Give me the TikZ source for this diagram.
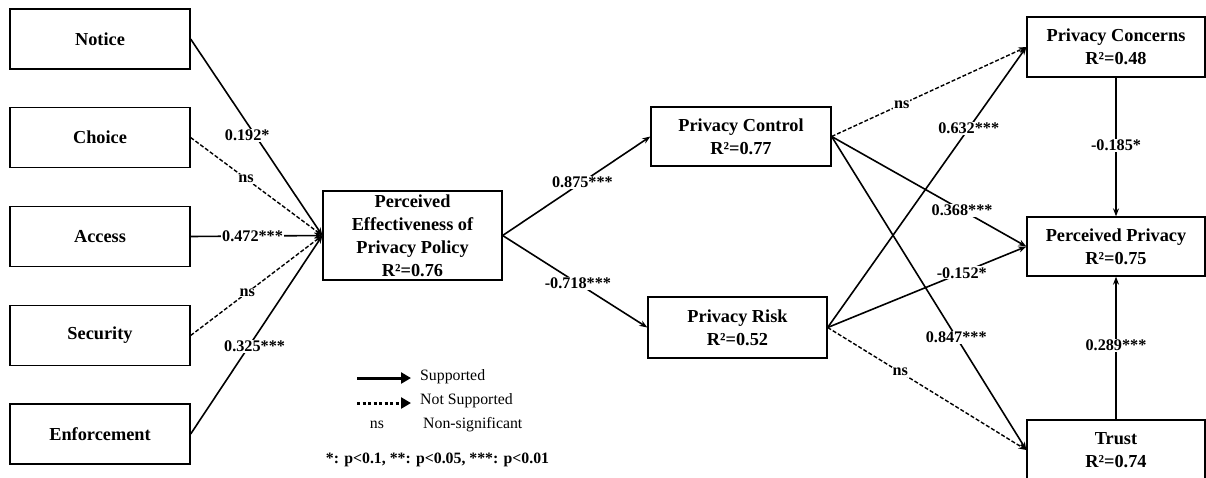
\documentclass[tikz,border=0pt]{standalone}
\usepackage{fontspec}
\setmainfont{Liberation Serif}
\usetikzlibrary{arrows.meta}
\begin{document}
\begin{tikzpicture}[x=1pt,y=-1pt,
  box/.style={draw, line width=1.3pt, minimum width=180pt, minimum height=60pt, align=center,
    font=\fontsize{18.3}{23}\selectfont\bfseries, inner sep=0pt},
  lab/.style={fill=white, inner sep=1pt, font=\fontsize{16.2}{18}\selectfont\bfseries},
  sup/.style={draw, line width=1.6pt, -{Stealth[length=8pt,width=6pt]}},
  nsup/.style={sup, dash pattern=on 4pt off 2pt, line width=1.4pt},
  legtext/.style={anchor=west, inner sep=0pt, font=\fontsize{15.8}{18}\selectfont}]
\useasboundingbox (0,0) rectangle (1206,477);

% left column
\node[box] (notice) at (100,39) {Notice};
\node[box] (choice) at (100,137.5) {Choice};
\node[box] (access) at (100,236.5) {Access};
\node[box] (security) at (100,335.5) {Security};
\node[box] (enforcement) at (100,434) {Enforcement};

% middle
\node[box, minimum width=179pt, minimum height=89pt] (pepp) at (412.5,235.5)
  {Perceived\\Effectiveness of\\Privacy Policy\\R²=0.76};
\node[box, minimum height=59pt] (pcontrol) at (741,136.5) {Privacy Control\\R²=0.77};
\node[box, minimum width=179pt, minimum height=61pt] (prisk) at (737.5,327.5) {Privacy Risk\\R²=0.52};

% right column
\node[box, minimum width=178pt] (pconcerns) at (1116,47) {Privacy Concerns\\R²=0.48};
\node[box, minimum width=178pt, minimum height=59pt] (pprivacy) at (1116,246.5) {Perceived Privacy\\R²=0.75};
\node[box, minimum width=178pt] (trust) at (1116,450) {Trust\\R²=0.74};

% left arrows
\draw[sup] (notice.east) -- node[lab, pos=0.49, xshift=-8pt] (l1) {0.192*} (pepp.west);
\draw[nsup] (choice.east) -- node[lab, pos=0.42] (l2) {ns} (pepp.west);
\draw[sup] (access.east) -- node[lab, pos=0.47] (l3) {0.472***} (pepp.west);
\draw[nsup] (security.east) -- node[lab, pos=0.43] (l4) {ns} (pepp.west);
\draw[sup] (enforcement.east) -- node[lab, pos=0.44, xshift=6pt] (l5) {0.325***} (pepp.west);

% middle arrows
\draw[sup] (pepp.east) -- node[lab, pos=0.54] (l6) {0.875***} (pcontrol.west);
\draw[sup] (pepp.east) -- node[lab, pos=0.52] (l7) {-0.718***} (prisk.west);

% right arrows
\draw[nsup] (pcontrol.east) -- node[lab, pos=0.36] (l8) {ns} (pconcerns.west);
\draw[sup] (pcontrol.east) -- node[lab, pos=0.67] (l9) {0.368***} (pprivacy.west);
\draw[sup] (pcontrol.east) -- node[lab, pos=0.64] (l10) {0.847***} (trust.west);
\draw[sup] (prisk.east) -- node[lab, pos=0.71] (l11) {0.632***} (pconcerns.west);
\draw[sup] (prisk.east) -- node[lab, pos=0.675] (l12) {-0.152*} (pprivacy.west);
\draw[nsup] (prisk.east) -- node[lab, pos=0.365] (l13) {ns} (trust.west);
\draw[sup] (pconcerns.south) -- node[lab, pos=0.49] (l14) {-0.185*} (pprivacy.north);
\draw[sup] (trust.north) -- node[lab, pos=0.52] (l15) {0.289***} (pprivacy.south);

% legend
\coordinate (la1) at (357,378); \coordinate (lb1) at (411,378);
\coordinate (la2) at (357,403); \coordinate (lb2) at (411,403);
\draw[line width=3pt, -{Triangle[length=10pt,width=11pt]}] (la1) -- (lb1);
\draw[line width=3pt, dash pattern=on 3pt off 2.5pt, -{Triangle[length=10pt,width=11pt]}] (la2) -- (lb2);
\node[legtext] (leg1) at (420,377) {Supported};
\node[legtext] (leg2) at (420,401) {Not Supported};
\node[font=\fontsize{15.8}{18}\selectfont, inner sep=0pt] (legns) at (377,425) {ns};
\node[legtext] (leg3) at (423,425) {Non-significant};
\node[inner sep=0pt, font=\fontsize{15.8}{18}\selectfont\bfseries] (note) at (437.5,460)
  {*: p<0.1, **: p<0.05, ***: p<0.01};
\end{tikzpicture}
\end{document}
